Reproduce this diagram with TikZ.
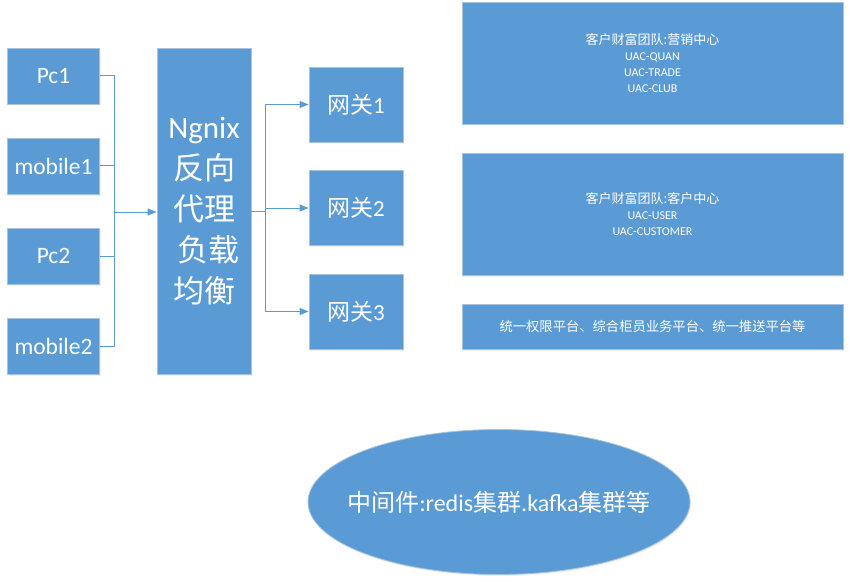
\documentclass[tikz,border=0pt]{standalone}
\usepackage{fontspec}
\setmainfont{Carlito}
\newfontfamily\cjk{Noto Sans CJK SC}
\usetikzlibrary{arrows.meta,shapes.geometric,shadows}
\definecolor{boxblue}{HTML}{5B9BD5}
\definecolor{boxedge}{HTML}{A9C3DE}
\begin{document}
\begin{tikzpicture}[x=1pt,y=-1pt,
  blk/.style={rectangle, fill=boxblue, draw=boxedge, line width=0.8pt, text=white, inner sep=0pt,
    drop shadow={opacity=0.12, shadow xshift=1pt, shadow yshift=-1.5pt}},
  client/.style={blk, minimum width=92pt, minimum height=56pt, font=\fontsize{23.5}{26}\selectfont},
  gate/.style={blk, minimum width=94pt, minimum height=75pt, font=\fontsize{23}{26}\selectfont},
  team/.style={blk, minimum width=381pt, align=center, font=\fontsize{12}{16}\selectfont},
  conn/.style={draw=boxblue, line width=1pt},
  arr/.style={conn, -{Triangle[length=9pt,width=7pt]}}
]
\useasboundingbox (0,0) rectangle (849,583);

% clients
\node[client] (pc1)  at (53.5,76)  {Pc1};
\node[client] (mob1) at (53.5,166) {mobile1};
\node[client] (pc2)  at (53.5,256) {Pc2};
\node[client] (mob2) at (53.5,346) {mobile2};

% nginx
\node[blk, minimum width=94pt, minimum height=326pt, align=center,
      font=\fontsize{31}{41}\selectfont] (ngx) at (204,211)
  {Ngnix\\{\cjk 反向}\\{\cjk 代理}\\\hspace*{8pt}{\cjk 负载}\\{\cjk 均衡}};

% gateways
\node[gate] (gw1) at (356,104.5) {{\cjk 网关}1};
\node[gate] (gw2) at (356,208)   {{\cjk 网关}2};
\node[gate] (gw3) at (356,311.5) {{\cjk 网关}3};

% right boxes
\node[team, minimum height=122pt] (ta) at (652.5,63)
  {{\cjk\fontsize{13}{16}\selectfont 客户财富团队:营销中心}\\UAC-QUAN\\UAC-TRADE\\UAC-CLUB};
\node[team, minimum height=122pt] (tb) at (652.5,214)
  {{\cjk\fontsize{13}{16}\selectfont 客户财富团队:客户中心}\\UAC-USER\\UAC-CUSTOMER};
\node[team, minimum height=45pt] (tc) at (652.5,326.5)
  {{\cjk\fontsize{13.3}{16}\selectfont 统一权限平台、综合柜员业务平台、统一推送平台等}};

% middleware ellipse
\node[ellipse, fill=boxblue, draw=boxedge, line width=0.8pt, inner sep=0pt,
      minimum width=382pt, minimum height=145pt,
      drop shadow={opacity=0.12, shadow xshift=1pt, shadow yshift=-1.5pt}] (mw) at (499,502) {};
\node[text=white, inner sep=0pt, font=\fontsize{24}{28}\selectfont] (mwt) at (mw.center)
  {{\cjk 中间件}:redis{\cjk 集群}.kafka{\cjk 集群等}};

% left connectors
\coordinate (jl) at (114,212);
\draw[conn] (pc1.east) -| (jl);
\draw[conn] (mob1.east) -| (jl);
\draw[conn] (pc2.east) -| (jl);
\draw[conn] (mob2.east) -| (jl);
\draw[arr] (jl) -- (jl -| ngx.west);

% right connectors
\coordinate (jr) at (265,211);
\draw[conn] (ngx.east) -- (jr);
\draw[arr] (jr) |- (gw1.west);
\draw[arr] (jr) |- (gw2.west);
\draw[arr] (jr) |- (gw3.west);
\end{tikzpicture}
\end{document}
